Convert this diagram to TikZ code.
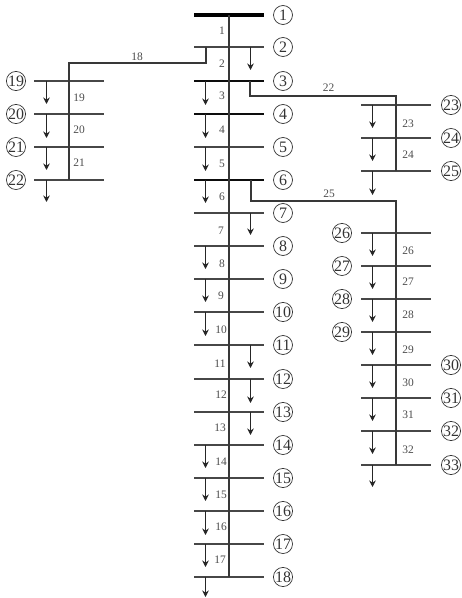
\documentclass[tikz,border=0pt]{standalone}
\usepackage{fontspec}
\setmainfont{Liberation Serif}
\usetikzlibrary{arrows.meta,calc}
\tikzset{
  x=1bp,y=-1bp,
  busbar/.style={fill=black!72,draw=none,minimum width=70bp,minimum height=2bp,inner sep=0pt,outer sep=0pt},
  thickbus/.style={busbar,fill=black!95},
  slackbus/.style={busbar,fill=black,minimum height=4bp},
  busid/.style={circle,draw=black!80,line width=0.7bp,minimum size=19bp,inner sep=0pt,font=\fontsize{16}{16}\selectfont,text=black!80},
  branchid/.style={inner sep=0pt,font=\fontsize{11.5}{11.5}\selectfont,text=black!70},
  feeder/.style={draw=black!78,line width=2bp,line join=miter},
  loadline/.style={draw=black!85,line width=1bp,-{Stealth[length=6.5bp,width=6.5bp]}},
}
\begin{document}
\begin{tikzpicture}
\useasboundingbox (0,0) rectangle (462,598);
% main feeder buses
\foreach \n/\y/\s in {1/15/slackbus,2/47/busbar,3/81/thickbus,4/114/thickbus,5/147/busbar,6/180/thickbus,7/213/busbar,8/246/busbar,9/279/busbar,10/312/busbar,11/345/busbar,12/379/busbar,13/412/busbar,14/445/busbar,15/478/busbar,16/511/busbar,17/544/busbar,18/577/busbar}{
  \node[\s] (b\n) at (229,\y) {};
  \node[busid] (c\n) at (283,\y) {\n};
}
% lateral 19-22
\foreach \n/\y in {19/81,20/114,21/147,22/180}{
  \node[busbar] (b\n) at (69,\y) {};
  \node[busid] (c\n) at (16,\y) {\n};
}
% lateral 23-25
\foreach \n/\y in {23/105,24/138,25/171}{
  \node[busbar] (b\n) at (396,\y) {};
  \node[busid] (c\n) at (451,\y) {\n};
}
% lateral 26-33
\foreach \n/\y/\cx in {26/233/342,27/266/342,28/299/342,29/332/342,30/365/451,31/398/451,32/431/451,33/465/451}{
  \node[busbar] (b\n) at (396,\y) {};
  \node[busid] (c\n) at (\cx,\y) {\n};
}
% feeders
\draw[feeder] (b1.center) -- (b18.center);
\draw[feeder] (b19.center) -- (b22.center);
\draw[feeder] (b23.center) -- (b25.center);
\draw[feeder] (b26.center) -- (b33.center);
% branch laterals
\coordinate (a18) at (206,63);
\coordinate (a18b) at (69,63);
\draw[feeder] (a18 |- b2) -- (a18) -- (a18b) -- (b19.center);
\coordinate (a22) at (250,96);
\coordinate (a22b) at (396,96);
\draw[feeder] (a22 |- b3) -- (a22) -- (a22b) -- (b23.center);
\coordinate (a25) at (251,201);
\coordinate (a25b) at (396,201);
\draw[feeder] (a25 |- b6) -- (a25) -- (a25b) -- (b26.center);
% loads
\foreach \n/\x/\d in {2/250.5/23,3/205.5/24,4/205.5/24,5/205.5/24,6/205.5/23,7/250.5/22,8/205.5/23,9/205.5/23,10/205.5/24,11/250.5/23,12/250.5/24,13/250.5/23,14/205.5/23,15/205.5/23,16/205.5/24,17/205.5/23,18/205.5/20,
  19/46.5/23,20/46.5/24,21/46.5/23,22/46.5/22,
  23/372.5/23,24/372.5/23,25/372.5/24,
  26/372.5/23,27/372.5/23,28/372.5/23,29/372.5/23,30/372.5/23,31/372.5/23,32/372.5/23,33/372.5/22}{
  \coordinate (t\n) at ($(\x,0 |- b\n)+(0,\d)$);
  \draw[loadline] (t\n |- b\n) -- (t\n);
}
% branch numbers
\foreach \n/\x/\y in {1/222/31,2/222/63.5,3/222/96,4/222/130,5/222/164,6/222/197,7/221/230.5,8/222/264,9/221/296,10/221/330,11/220/364,12/221/395,13/220/428,14/221/462,15/221/495,16/221/527,17/220/560,
  18/137/57,19/79/98,20/79/130,21/79/163,22/328.5/88,23/408/123.5,24/408/155,25/329/194,26/408/250.5,27/408/282,28/408/315,29/408/350,30/408/383,31/408/415,32/408/450}{
  \node[branchid] (n\n) at (\x,\y) {\n};
}
\end{tikzpicture}
\end{document}
